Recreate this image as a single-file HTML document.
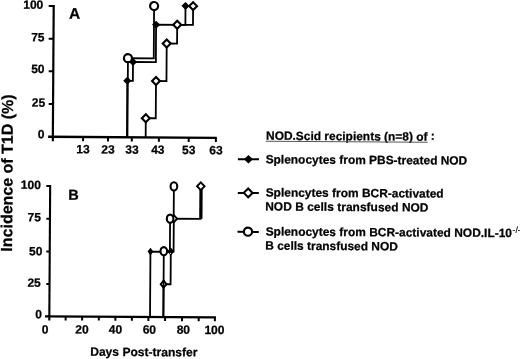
<!DOCTYPE html>
<html><head><meta charset="utf-8">
<style>
html,body{margin:0;padding:0;background:#fff;}
body{width:520px;height:359px;overflow:hidden;}
svg{display:block;will-change:transform;}
text{font-family:"Liberation Sans",sans-serif;font-weight:bold;fill:#000;stroke:#000;stroke-width:0.25px;}
</style></head><body>
<svg width="520" height="359" viewBox="0 0 520 359">
<rect width="520" height="359" fill="#fff"/>
<g><g transform="rotate(0.37 260.0 180.0)">
<path d="M52.58,6.24 L52.58,142.49" stroke="#000" stroke-width="2.2"/>
<path d="M47.58,7.26 L52.58,7.26" stroke="#000" stroke-width="2"/>
<path d="M47.79,40.01 L52.58,40.01" stroke="#000" stroke-width="2"/>
<path d="M48,72.66 L52.58,72.66" stroke="#000" stroke-width="2"/>
<path d="M48.21,105.46 L52.58,105.46" stroke="#000" stroke-width="2"/>
<path d="M47.83,138.19 L216.53,138.19" stroke="#000" stroke-width="2.4"/>
<path d="M82.79,138.19 L82.79,142.39" stroke="#000" stroke-width="2"/>
<path d="M107.74,138.19 L107.74,142.39" stroke="#000" stroke-width="2"/>
<path d="M131.54,138.19 L131.54,142.39" stroke="#000" stroke-width="2"/>
<path d="M158.64,138.19 L158.64,142.39" stroke="#000" stroke-width="2"/>
<path d="M188.44,138.19 L188.44,142.39" stroke="#000" stroke-width="2"/>
<path d="M215.64,138.19 L215.64,142.39" stroke="#000" stroke-width="2"/>
<text x="22.13" y="10.26" font-size="12">100</text>
<text x="30.25" y="42.67" font-size="12">75</text>
<text x="30.49" y="74.38" font-size="12">50</text>
<text x="31.33" y="108.07" font-size="12">25</text>
<text x="37.58" y="139.75" font-size="12">0</text>
<text x="76.16" y="154.48" font-size="12">13</text>
<text x="101.2" y="154.48" font-size="12">23</text>
<text x="125.16" y="154.49" font-size="12">33</text>
<text x="151.02" y="154.49" font-size="12">43</text>
<text x="181.93" y="154.49" font-size="12">53</text>
<text x="209.2" y="154.49" font-size="12">63</text>
<text x="67.85" y="19.9" font-size="15.5">A</text>
<path d="M127.17,138.19 V59.06 H152.98 V6.69" stroke="#000" stroke-width="1.8" fill="none"/>
<path d="M126.66,138.19 V81.66 H132.24 V62.72 H155.1 V25.32 H184.38 V6.38" stroke="#000" stroke-width="1.8" fill="none"/>
<path d="M145.4,138.19 V118.94 H155.36 V81.67 H165.82 V44.11 H176.2 V25.34 H191.98 V6.54" stroke="#000" stroke-width="1.8" fill="none"/>
<path d="M126.66,77.66 L130.76,81.66 L126.66,85.66 L122.56,81.66 Z" fill="#000"/>
<path d="M132.24,58.72 L136.34,62.72 L132.24,66.72 L128.14,62.72 Z" fill="#000"/>
<path d="M155.1,21.32 L159.2,25.32 L155.1,29.32 L151,25.32 Z" fill="#000"/>
<path d="M184.38,2.38 L188.48,6.38 L184.38,10.38 L180.28,6.38 Z" fill="#000"/>
<path d="M145.4,114.99 L149.35,118.94 L145.4,122.89 L141.45,118.94 Z" fill="#fff" stroke="#000" stroke-width="2.1"/>
<path d="M155.36,77.72 L159.31,81.67 L155.36,85.62 L151.41,81.67 Z" fill="#fff" stroke="#000" stroke-width="2.1"/>
<path d="M165.82,40.16 L169.77,44.11 L165.82,48.06 L161.87,44.11 Z" fill="#fff" stroke="#000" stroke-width="2.1"/>
<path d="M176.2,21.39 L180.15,25.34 L176.2,29.29 L172.25,25.34 Z" fill="#fff" stroke="#000" stroke-width="2.1"/>
<path d="M191.98,2.59 L195.93,6.54 L191.98,10.49 L188.03,6.54 Z" fill="#fff" stroke="#000" stroke-width="2.1"/>
<circle cx="127.17" cy="59.06" r="4" fill="#fff" stroke="#000" stroke-width="2.2"/>
<circle cx="152.98" cy="6.69" r="4" fill="#fff" stroke="#000" stroke-width="2.2"/>
<path d="M50.21,186.36 L50.21,321.74" stroke="#000" stroke-width="2.1"/>
<path d="M46.34,187.37 L50.21,187.37" stroke="#000" stroke-width="2"/>
<path d="M46.56,220.17 L50.21,220.17" stroke="#000" stroke-width="2"/>
<path d="M46.77,252.87 L50.21,252.87" stroke="#000" stroke-width="2"/>
<path d="M46.98,285.47 L50.21,285.47" stroke="#000" stroke-width="2"/>
<path d="M45.89,317.74 L216.89,317.74" stroke="#000" stroke-width="2.2"/>
<path d="M66.55,317.74 L66.55,321.64" stroke="#000" stroke-width="2"/>
<path d="M83,317.74 L83,321.64" stroke="#000" stroke-width="2"/>
<path d="M99.7,317.74 L99.7,321.64" stroke="#000" stroke-width="2"/>
<path d="M116.3,317.74 L116.3,321.64" stroke="#000" stroke-width="2"/>
<path d="M132.8,317.74 L132.8,321.64" stroke="#000" stroke-width="2"/>
<path d="M149.3,317.74 L149.3,321.64" stroke="#000" stroke-width="2"/>
<path d="M166,317.74 L166,321.64" stroke="#000" stroke-width="2"/>
<path d="M182.9,317.74 L182.9,321.64" stroke="#000" stroke-width="2"/>
<path d="M199.6,317.74 L199.6,321.64" stroke="#000" stroke-width="2"/>
<path d="M215.8,317.74 L215.8,321.64" stroke="#000" stroke-width="2"/>
<text x="20.87" y="190.42" font-size="12">100</text>
<text x="27.76" y="222.69" font-size="12">75</text>
<text x="29.51" y="256.74" font-size="12">50</text>
<text x="28.1" y="288.15" font-size="12">25</text>
<text x="36.04" y="319.77" font-size="12">0</text>
<text x="42.69" y="334.92" font-size="12">0</text>
<text x="76.24" y="334.59" font-size="12">20</text>
<text x="109.76" y="334.47" font-size="12">40</text>
<text x="143.64" y="334.35" font-size="12">60</text>
<text x="177.67" y="334.28" font-size="12">80</text>
<text x="205.43" y="334.28" font-size="12">100</text>
<text x="68.33" y="201.01" font-size="14.5">B</text>
<path d="M150.91,317.74 V252.31 H170.86" stroke="#000" stroke-width="1.8" fill="none"/>
<path d="M164.26,317.74 V251.82 H170.35 V219.28 H173.94 V186.96" stroke="#000" stroke-width="1.8" fill="none"/>
<path d="M164.27,317.74 V284.82 H171.26 V252.07 H174.05 V219.26 H200.84 V186.68" stroke="#000" stroke-width="1.8" fill="none"/>
<path d="M201.13,219.08 V187.38" stroke="#000" stroke-width="3.2"/>
<path d="M150.91,248.41 L153.81,252.31 L150.91,256.21 L148.01,252.31 Z" fill="#000"/>
<path d="M164.27,281.22 L167.17,284.82 L164.27,288.42 L161.37,284.82 Z" fill="#fff" stroke="#000" stroke-width="1.9"/>
<path d="M171.26,248.17 L174.86,252.07 L171.26,255.97 L167.66,252.07 Z" fill="#000"/>
<path d="M174.05,215.56 L177.35,219.26 L174.05,222.96 L170.75,219.26 Z" fill="#fff" stroke="#000" stroke-width="1.9"/>
<path d="M200.84,182.78 L204.59,186.68 L200.84,190.58 L197.09,186.68 Z" fill="#fff" stroke="#000" stroke-width="1.9"/>
<path d="M164.27,281.22 V288.42" stroke="#000" stroke-width="1.8"/>
<circle cx="170.96" cy="253.87" r="0.6" fill="#fff"/>
<ellipse cx="164.26" cy="251.82" rx="3.3" ry="4.1" fill="#fff" stroke="#000" stroke-width="2.1"/>
<ellipse cx="170.35" cy="219.28" rx="3.3" ry="4.1" fill="#fff" stroke="#000" stroke-width="2.1"/>
<ellipse cx="173.94" cy="186.96" rx="3.35" ry="4.1" fill="#fff" stroke="#000" stroke-width="2.1"/>
<text x="91.36" y="356.79" font-size="12" textLength="107.23">Days Post-transfer</text>
<text transform="translate(12.56,253.24) rotate(-90)" font-size="16" textLength="157.23" lengthAdjust="spacingAndGlyphs">Incidence of T1D (%)</text>
<text x="265.77" y="139.66" font-size="11.9" textLength="161.52">NOD.Scid recipients (n=8) of</text>
<text x="430.61" y="138.69" font-size="11.9">:</text>
<path d="M265.55,141.21 H427.35" stroke="#555" stroke-width="1.1"/>
<text x="265.54" y="163.31" font-size="11.9" textLength="201.57">Splenocytes from PBS-treated NOD</text>
<text x="265.75" y="196.46" font-size="11.9" textLength="178.01">Splencytes from BCR-activated</text>
<text x="265.42" y="210.41" font-size="11.9" textLength="163.2">NOD B cells transfused NOD</text>
<text x="266" y="235.46" font-size="11.9" textLength="246.35">Splenocytes from BCR-activated NOD.IL-10</text>
<text x="512.9" y="231.17" font-size="8.5" style="font-weight:normal;stroke-width:0.15px">-/-</text>
<text x="265.68" y="249.56" font-size="11.9" textLength="132.5">B cells transfused NOD</text>
<path d="M237.77,159.29 L258.87,159.29" stroke="#000" stroke-width="2"/>
<path d="M248.27,155.08 L252.77,159.28 L248.27,163.48 L243.77,159.28 Z" fill="#000"/>
<path d="M237.88,193.04 L258.88,193.04" stroke="#000" stroke-width="2"/>
<path d="M248.28,188.58 L252.68,192.98 L248.28,197.38 L243.88,192.98 Z" fill="#fff" stroke="#000" stroke-width="2.1"/>
<path d="M237.84,231.99 L259.14,231.99" stroke="#000" stroke-width="2"/>
<circle cx="248.33" cy="231.73" r="4.1" fill="#fff" stroke="#000" stroke-width="2.2"/>
</g></g>
</svg>
</body></html>
